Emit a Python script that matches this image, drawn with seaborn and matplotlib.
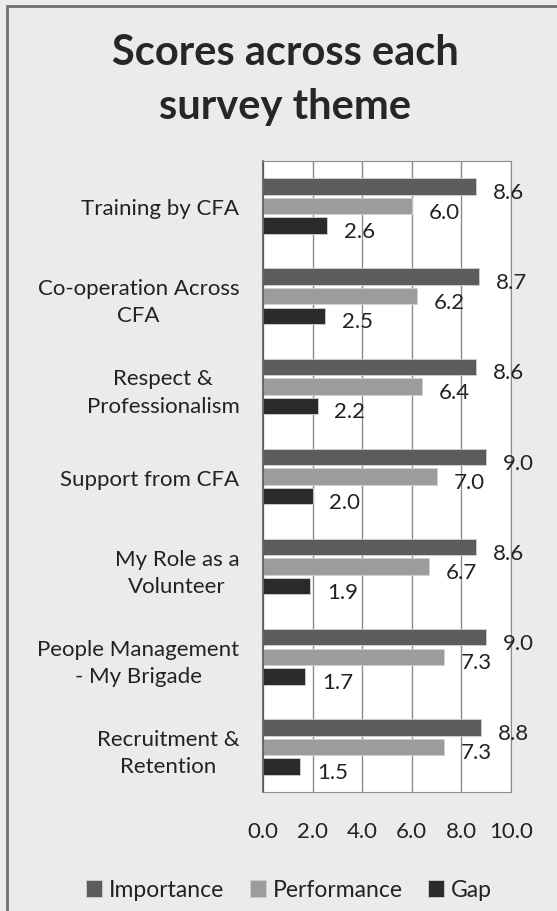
import pandas as pd
import seaborn as sns
from matplotlib import pyplot as plt
from matplotlib.patches import Rectangle

themes = ["Training by CFA", "Co-operation Across\nCFA", "Respect &\nProfessionalism",
          "Support from CFA", "My Role as a\nVolunteer", "People Management\n- My Brigade",
          "Recruitment &\nRetention"]
importance = [8.6, 8.7, 8.6, 9.0, 8.6, 9.0, 8.8]
performance = [6.0, 6.2, 6.4, 7.0, 6.7, 7.3, 7.3]
gap = [2.6, 2.5, 2.2, 2.0, 1.9, 1.7, 1.5]
series = ["Importance", "Performance", "Gap"]
colors = ["#5c5c5c", "#9c9c9c", "#2b2b2b"]

df = pd.DataFrame({"theme": themes * 3,
                   "series": [s for s in series for _ in themes],
                   "score": importance + performance + gap})

sns.set_style("white")
plt.rcParams['font.family'] = ['Lato', 'DejaVu Sans']

fig = plt.figure(figsize=(5.57, 9.12), dpi=100, facecolor="#ebebeb")
fig.patches.append(Rectangle((7 / 557, -0.05), 1.1, 1 - 7 / 912 + 0.05, transform=fig.transFigure,
                             fill=False, edgecolor="#707070", linewidth=2))
ax = fig.add_axes([263 / 557, 1 - 793 / 912, 248 / 557, 631 / 912])
ax.set_facecolor("white")

sns.barplot(data=df, y="theme", x="score", hue="series", orient="h",
            palette=colors, width=0.65, gap=0.16, ax=ax, legend=True,
            edgecolor="#d0d0d0", linewidth=0.6)

# value labels sit right of each bar, a little below its centre
for c in ax.containers:
    for bar in c:
        w = bar.get_width()
        ax.annotate(f"{w:.1f}", (w, bar.get_y() + bar.get_height() / 2),
                    xytext=(12, -4), textcoords="offset points",
                    ha="left", va="center", fontsize=16, color="#222222")

ax.set_xlim(0, 10)
ax.set_xticks([0, 2, 4, 6, 8, 10])
ax.set_xticklabels(["0.0", "2.0", "4.0", "6.0", "8.0", "10.0"], fontsize=16, color="#222222")
ax.tick_params(axis="x", length=0, pad=21)
ax.tick_params(axis="y", length=0, pad=17)
ax.set_yticks(range(len(themes)))
ax.set_yticklabels(themes, fontsize=16, color="#222222", ha="right",
                   multialignment="center", linespacing=1.45)
ax.set_ylim(len(themes) - 0.5, -0.5)
ax.grid(axis="x", color="#8c8c8c", linewidth=1)
ax.set_axisbelow(True)
ax.set_xlabel("")
ax.set_ylabel("")
for side in ["top", "bottom", "right"]:
    ax.spines[side].set_color("#8c8c8c")
ax.spines["left"].set_color("#555555")
ax.spines["left"].set_linewidth(1.2)

handles, labels = ax.get_legend_handles_labels()
ax.legend(handles, labels, loc="center", bbox_to_anchor=(289 / 557, 1 - 891 / 912),
          bbox_transform=fig.transFigure, ncol=3, frameon=False, fontsize=16.5,
          handlelength=0.7, handleheight=0.7, handletextpad=0.3, columnspacing=1.1,
          labelcolor="#222222")

fig.text(285 / 557, 1 - 80 / 912, "Scores across each\nsurvey theme", ha="center", va="center",
         fontsize=30, fontweight="bold", color="#262626", linespacing=1.5)

fig.savefig("out.png", dpi=100, facecolor=fig.get_facecolor())
